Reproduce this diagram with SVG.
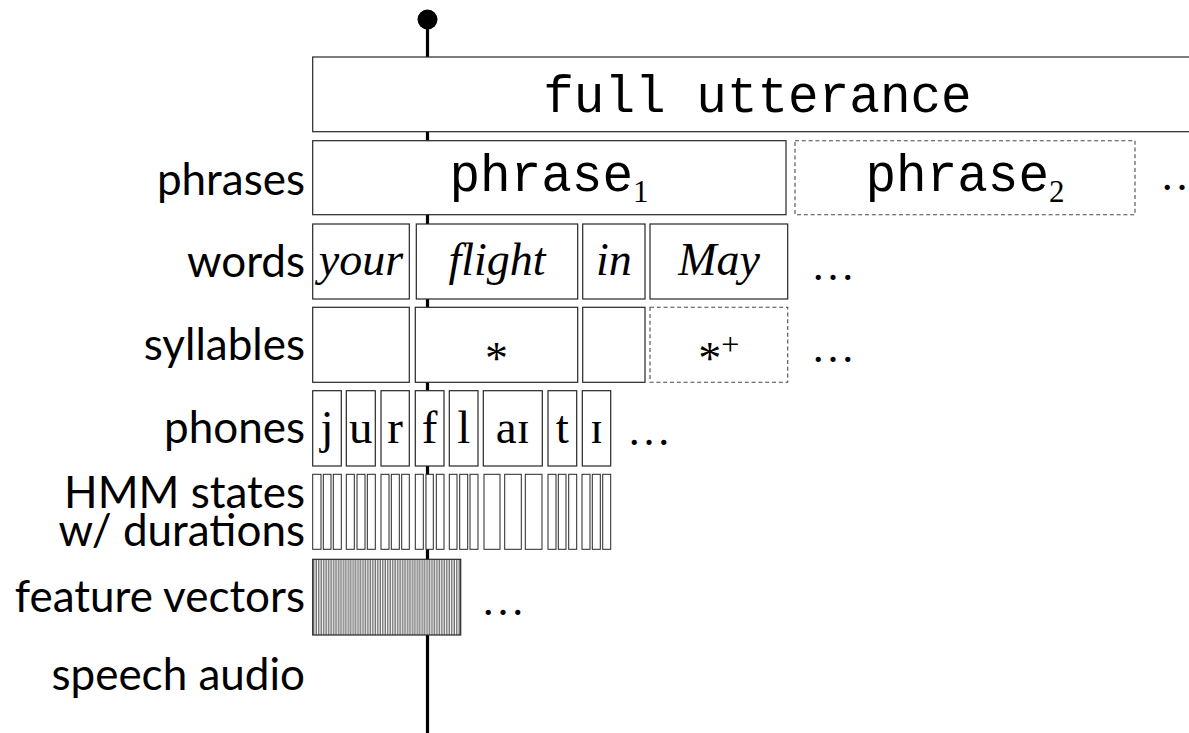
<svg xmlns="http://www.w3.org/2000/svg" width="1189" height="733" viewBox="0 0 1189 733">
  <style>
    .box { fill: #fff; stroke: #262626; stroke-width: 1.2; }
    .dash { fill: #fff; stroke: #4a4a4a; stroke-width: 1.1; stroke-dasharray: 4 2.8; }
    .state { fill: #fff; stroke: #262626; stroke-width: 1; }
    .label { font-family: Lato, "Open Sans", sans-serif; font-size: 44px; fill: #000; text-anchor: end; }
    .mono { font-family: "Liberation Mono", "DejaVu Sans Mono", monospace; font-size: 51px; fill: #000; text-anchor: middle; }
    .sub { font-family: "Liberation Serif", serif; font-size: 31px; }
    .word { font-family: "Liberation Serif", serif; font-style: italic; font-size: 46px; fill: #000; text-anchor: middle; }
    .phone { font-family: "Liberation Serif", "DejaVu Serif", serif; font-size: 47px; fill: #000; text-anchor: middle; }
    .star { font-family: "Liberation Serif", serif; font-size: 46px; fill: #000; text-anchor: middle; }
    .dots { font-family: "Liberation Serif", serif; font-size: 44px; fill: #000; }
    .spine { stroke: #000; stroke-width: 3.2; fill: none; }
  </style>
  <defs>
    <!-- one feature vector per period: grey bar with black edges, thin white gap -->
    <pattern id="vectors" patternUnits="userSpaceOnUse" x="313" y="0" width="4.93" height="733">
      <rect x="0" y="0" width="4.93" height="733" fill="#fff"/>
      <rect x="0.6" y="0" width="3.1" height="733" fill="#c0c0c0" stroke="#000" stroke-width="0.45"/>
    </pattern>
  </defs>

  <!-- time axis running through all levels -->
  <g id="connectors">
    <line class="spine" x1="427.5" y1="19" x2="427.5" y2="733"/>
    <circle cx="427.5" cy="19.5" r="10" fill="#000"/>
  </g>

  <!-- row labels -->
  <g id="labels">
    <text class="label" x="305" y="195">phrases</text>
    <text class="label" x="305" y="277">words</text>
    <text class="label" x="305" y="360">syllables</text>
    <text class="label" x="305" y="443">phones</text>
    <text class="label" x="305" y="508">HMM states</text>
    <text class="label" x="305" y="546">w/ durations</text>
    <text class="label" x="305" y="612">feature vectors</text>
    <text class="label" x="305" y="690">speech audio</text>
  </g>

  <g id="utterance">
    <rect class="box" x="312.7" y="57" width="890" height="74.7"/>
    <text class="mono" x="757.5" y="111.7">full utterance</text>
  </g>

  <g id="phrase1">
    <rect class="box" x="312.7" y="140.7" width="473.3" height="74"/>
    <text class="mono" x="549" y="191">phrase<tspan class="sub" dy="10.7">1</tspan></text>
  </g>
  <g id="phrase2">
    <rect class="dash" x="795" y="140.7" width="340" height="74"/>
    <text class="mono" x="965" y="191">phrase<tspan class="sub" dy="10.7">2</tspan></text>
  </g>
  <text class="dots" x="1160" y="190">…</text>

  <g id="words">
    <g id="word-your">
      <rect class="box" x="312.7" y="224" width="96.6" height="75"/>
      <text class="word" x="361" y="275">your</text>
    </g>
    <g id="word-flight">
      <rect class="box" x="416.3" y="224" width="161.4" height="75"/>
      <text class="word" x="497" y="275">flight</text>
    </g>
    <g id="word-in">
      <rect class="box" x="582.7" y="224" width="62.3" height="75"/>
      <text class="word" x="613.9" y="275">in</text>
    </g>
    <g id="word-may">
      <rect class="box" x="650" y="224" width="137.7" height="75"/>
      <text class="word" x="719" y="275">May</text>
    </g>
    <text class="dots" x="811" y="280">…</text>
  </g>

  <g id="syllables">
    <rect class="box" x="312.7" y="307.3" width="96.6" height="75"/>
    <g id="syllable-stressed">
      <rect class="box" x="415.3" y="307.3" width="162.4" height="75"/>
      <text class="star" x="496.5" y="374">*</text>
    </g>
    <rect class="box" x="582.7" y="307.3" width="62.3" height="75"/>
    <g id="syllable-accent">
      <rect class="dash" x="650" y="307.3" width="137.7" height="75"/>
      <text class="star" x="718.8" y="374">*<tspan font-size="32" dy="-19">+</tspan></text>
    </g>
    <text class="dots" x="811" y="362">…</text>
  </g>

  <g id="phones">
    <g><rect class="box" x="312.7" y="390.7" width="28.6" height="75.3"/><text class="phone" x="327" y="443">j</text></g>
    <g><rect class="box" x="346.3" y="390.7" width="29" height="75.3"/><text class="phone" x="360.8" y="443">u</text></g>
    <g><rect class="box" x="381" y="390.7" width="28.3" height="75.3"/><text class="phone" x="395.2" y="443">r</text></g>
    <g><rect class="box" x="415.3" y="390.7" width="28.7" height="75.3"/><text class="phone" x="429.7" y="443">f</text></g>
    <g><rect class="box" x="449.3" y="390.7" width="28.7" height="75.3"/><text class="phone" x="463.7" y="443">l</text></g>
    <g><rect class="box" x="483.3" y="390.7" width="59" height="75.3"/><text class="phone" x="512.8" y="443">aɪ</text></g>
    <g><rect class="box" x="548" y="390.7" width="28.7" height="75.3"/><text class="phone" x="562.4" y="443">t</text></g>
    <g><rect class="box" x="582.3" y="390.7" width="28.4" height="75.3"/><text class="phone" x="596.5" y="443">ɪ</text></g>
    <text class="dots" x="627" y="445">…</text>
  </g>

  <g id="hmm-states">
    <rect class="state" x="312.7" y="474.3" width="8.3" height="75"/>
    <rect class="state" x="323.3" y="474.3" width="7.7" height="75"/>
    <rect class="state" x="333.3" y="474.3" width="8" height="75"/>
    <rect class="state" x="346.3" y="474.3" width="8" height="75"/>
    <rect class="state" x="357" y="474.3" width="8" height="75"/>
    <rect class="state" x="367.3" y="474.3" width="8" height="75"/>
    <rect class="state" x="381" y="474.3" width="8" height="75"/>
    <rect class="state" x="391.3" y="474.3" width="8" height="75"/>
    <rect class="state" x="401.7" y="474.3" width="7.6" height="75"/>
    <rect class="state" x="415.3" y="474.3" width="8" height="75"/>
    <rect class="state" x="426" y="474.3" width="7.3" height="75"/>
    <rect class="state" x="436.3" y="474.3" width="7.7" height="75"/>
    <rect class="state" x="449.3" y="474.3" width="7.7" height="75"/>
    <rect class="state" x="459.7" y="474.3" width="8" height="75"/>
    <rect class="state" x="470" y="474.3" width="8" height="75"/>
    <rect class="state" x="484" y="474.3" width="16" height="75"/>
    <rect class="state" x="504.7" y="474.3" width="16.6" height="75"/>
    <rect class="state" x="525.3" y="474.3" width="16.7" height="75"/>
    <rect class="state" x="548" y="474.3" width="8" height="75"/>
    <rect class="state" x="558.3" y="474.3" width="7.7" height="75"/>
    <rect class="state" x="568.7" y="474.3" width="8" height="75"/>
    <rect class="state" x="582" y="474.3" width="8" height="75"/>
    <rect class="state" x="592.3" y="474.3" width="8" height="75"/>
    <rect class="state" x="602.7" y="474.3" width="8" height="75"/>
  </g>

  <g id="feature-vectors">
    <rect x="312.7" y="559.3" width="148" height="75.7" fill="url(#vectors)" stroke="#262626" stroke-width="1.2"/>
    <text class="dots" x="481" y="615">…</text>
  </g>
</svg>
